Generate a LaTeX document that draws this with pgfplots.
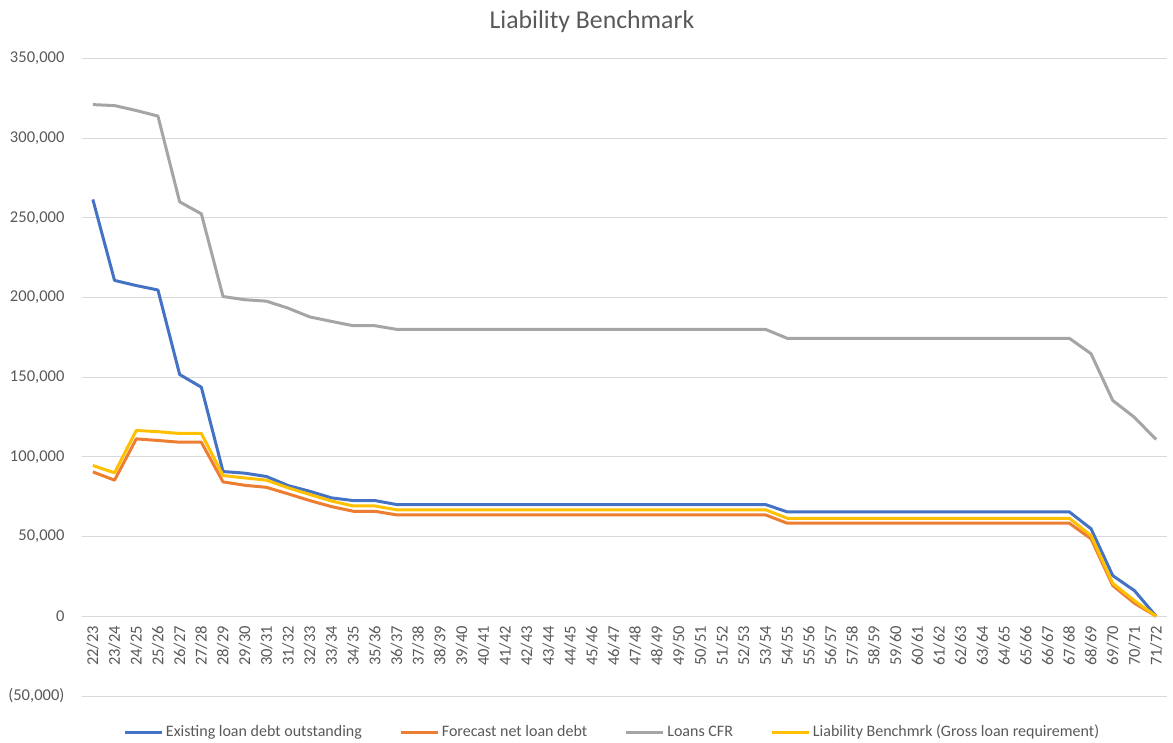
\documentclass[border=0pt]{standalone}
\usepackage{fontspec}
\setmainfont{Carlito}
\usepackage{pgfplots}
\usepackage{pgfplotstable}
\pgfplotsset{compat=1.18}
\definecolor{exblue}{HTML}{4472C4}
\definecolor{exorange}{HTML}{ED7D31}
\definecolor{exgray}{HTML}{A5A5A5}
\definecolor{exyellow}{HTML}{FFC000}
\definecolor{gridc}{HTML}{D9D9D9}
\definecolor{txt}{HTML}{595959}
\pgfplotstableread{
x ex fc cfr lb
0 261500 90600 321000 94600
1 210700 85400 320400 90000
2 207500 111300 317300 116600
3 204700 110300 313800 115800
4 151700 109200 260000 114700
5 143700 109200 252500 114700
6 90800 84300 200600 88300
7 89800 82200 198600 86800
8 87700 80900 197700 85400
9 82000 76800 193300 80600
10 78400 72600 187800 76400
11 74300 68800 185000 72300
12 72600 65900 182300 69200
13 72600 65900 182300 69200
14 70100 63600 180000 66800
15 70100 63600 180000 66800
16 70100 63600 180000 66800
17 70100 63600 180000 66800
18 70100 63600 180000 66800
19 70100 63600 180000 66800
20 70100 63600 180000 66800
21 70100 63600 180000 66800
22 70100 63600 180000 66800
23 70100 63600 180000 66800
24 70100 63600 180000 66800
25 70100 63600 180000 66800
26 70100 63600 180000 66800
27 70100 63600 180000 66800
28 70100 63600 180000 66800
29 70100 63600 180000 66800
30 70100 63600 180000 66800
31 70100 63600 180000 66800
32 65500 58400 174400 61500
33 65500 58400 174400 61500
34 65500 58400 174400 61500
35 65500 58400 174400 61500
36 65500 58400 174400 61500
37 65500 58400 174400 61500
38 65500 58400 174400 61500
39 65500 58400 174400 61500
40 65500 58400 174400 61500
41 65500 58400 174400 61500
42 65500 58400 174400 61500
43 65500 58400 174400 61500
44 65500 58400 174400 61500
45 65500 58400 174400 61500
46 54900 48600 164700 50700
47 25500 19300 135400 20700
48 16100 8200 124800 9800
49 0 0 110900 0
}\datatable
\begin{document}
\begin{tikzpicture}
\path[use as bounding box] (-61.5pt,-34.5pt) rectangle (818.25pt,522pt);
\begin{axis}[
  at={(0pt,0pt)}, anchor=south west,
  width=813.75pt, height=478.2pt, scale only axis,
  xmin=-0.5, xmax=49.5, ymin=-50000, ymax=350000,
  axis x line=middle, axis y line=left,
  x axis line style={-, draw=gridc, line width=0.75pt},
  y axis line style={draw=none},
  major tick length=0pt,
  scaled y ticks=false,
  ymajorgrids, grid style={gridc, line width=0.75pt},
  ytick={-50000,0,50000,100000,150000,200000,250000,300000,350000},
  yticklabels={{(50,000)},0,{50,000},{100,000},{150,000},{200,000},{250,000},{300,000},{350,000}},
  xtick={0,...,49},
  xticklabels={22/23,23/24,24/25,25/26,26/27,27/28,28/29,29/30,30/31,31/32,32/33,33/34,34/35,35/36,36/37,37/38,38/39,39/40,40/41,41/42,42/43,43/44,44/45,45/46,46/47,47/48,48/49,49/50,50/51,51/52,52/53,53/54,54/55,55/56,56/57,57/58,58/59,59/60,60/61,61/62,62/63,63/64,64/65,65/66,66/67,67/68,68/69,69/70,70/71,71/72},
  xticklabel style={rotate=90, anchor=east, inner sep=0pt, font=\fontsize{12.4}{14}\selectfont, text=txt},
  xticklabel shift=7pt,
  yticklabel style={anchor=east, inner sep=0pt, font=\fontsize{12.4}{14}\selectfont, text=txt},
  yticklabel shift=13pt,
  title={Liability Benchmark},
  title style={at={(0.470,1.0446)}, anchor=center, font=\fontsize{19.3}{23}\selectfont, text=txt},
  legend columns=4,
  legend style={at={(0.489,-0.0565)}, anchor=center, draw=none, fill=none,
    font=\fontsize{12}{14}\selectfont, text=txt,
    /tikz/every even column/.append style={column sep=26pt}},
  legend image code/.code={\draw[#1] (0pt,0pt) -- (27.75pt,0pt);},
  every axis plot/.append style={line width=2.25pt, line join=round, no markers},
]
\addplot[exblue] table[x=x, y=ex] {\datatable};
\addlegendentry{Existing loan debt outstanding}
\addplot[exorange] table[x=x, y=fc] {\datatable};
\addlegendentry{Forecast net loan debt}
\addplot[exgray] table[x=x, y=cfr] {\datatable};
\addlegendentry{Loans CFR}
\addplot[exyellow] table[x=x, y=lb] {\datatable};
\addlegendentry{Liability Benchmrk (Gross loan requirement)}
\end{axis}
\end{tikzpicture}
\end{document}
